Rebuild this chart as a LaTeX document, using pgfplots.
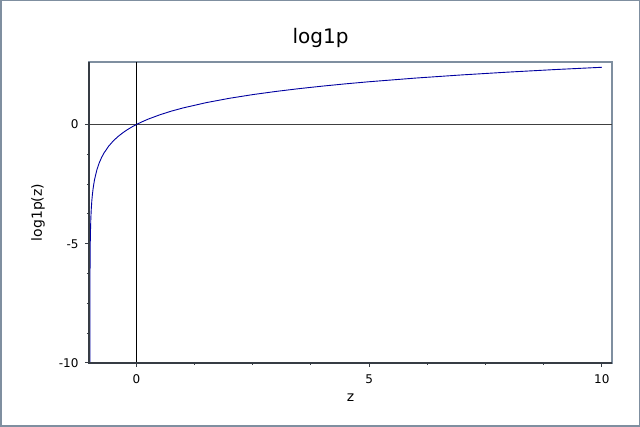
\documentclass[border=0pt]{standalone}
\usepackage{pgfplots}
\pgfplotsset{compat=1.18}
\usepackage{fontspec}
\setmainfont{DejaVu Sans}
\definecolor{frameblue}{HTML}{7F8FA0}
\definecolor{darkax}{HTML}{363C44}
\definecolor{curveblue}{HTML}{0000A0}
\definecolor{zeroline}{HTML}{404040}
\begin{document}
\begin{tikzpicture}[x=1pt,y=1pt]
\path[use as bounding box] (0,0) rectangle (640,427);
\draw[frameblue, line width=1.5pt] (0.75,0.75) rectangle (639.25,426.25);
\node[font=\fontsize{20}{24}\selectfont] at (320.5,389.5) {log1p};
\begin{axis}[
  at={(89pt,64pt)}, anchor=south west, scale only axis,
  width=523pt, height=301pt,
  xmin=-1.02, xmax=10.22, ymin=-10, ymax=2.62,
  xtick={0,5,10}, ytick={-10,-5,0}, minor tick num=3,
  xticklabels={0,5,10}, yticklabels={-10,-5,0},
  xtick pos=left, ytick pos=left,
  tick align=outside, major tick length=4pt, minor tick length=2pt,
  tick style={darkax, line width=1pt},
  axis line style={frameblue, line width=2pt},
  ticklabel style={font=\fontsize{12}{14}\selectfont},
  xticklabel style={yshift=-4pt},
  yticklabel style={xshift=-3pt},
  xlabel={z}, ylabel={log1p(z)},
  label style={font=\fontsize{14}{16}\selectfont},
  xlabel style={at={(axis description cs:0.5,-0.1163)}, anchor=center},
  ylabel style={at={(axis description cs:-0.0975,0.5)}, anchor=center},
  clip=false,
]
\draw[black, line width=0.8pt] (axis cs:0,-10) -- (axis cs:0,2.62);
\draw[zeroline, line width=1.3pt] (axis cs:-1.02,0) -- (axis cs:10.22,0);
\addplot[curveblue, line width=0.9pt] coordinates {
(-0.999955,-10.0) (-0.99995,-9.90) (-0.9999,-9.21) (-0.9995,-7.60) (-0.999,-6.91)
(-0.998,-6.21) (-0.995,-5.30) (-0.99,-4.605) (-0.98,-3.912) (-0.97,-3.507)
(-0.96,-3.219) (-0.95,-2.996) (-0.93,-2.659) (-0.9,-2.303) (-0.85,-1.897)
(-0.8,-1.609) (-0.75,-1.386) (-0.7,-1.204) (-0.6,-0.916) (-0.5,-0.693)
(-0.4,-0.511) (-0.3,-0.357) (-0.2,-0.223) (-0.1,-0.105) (0,0)
(0.1,0.095) (0.25,0.223) (0.5,0.405) (0.75,0.560) (1,0.693)
(1.5,0.916) (2,1.099) (2.5,1.253) (3,1.386) (3.5,1.504) (4,1.609)
(4.5,1.705) (5,1.792) (6,1.946) (7,2.079) (8,2.197) (9,2.303) (10,2.398)
};
\draw[darkax, line width=2pt] (rel axis cs:0,1) -- (rel axis cs:0,0) -- (rel axis cs:1,0);
\end{axis}
\end{tikzpicture}
\end{document}
